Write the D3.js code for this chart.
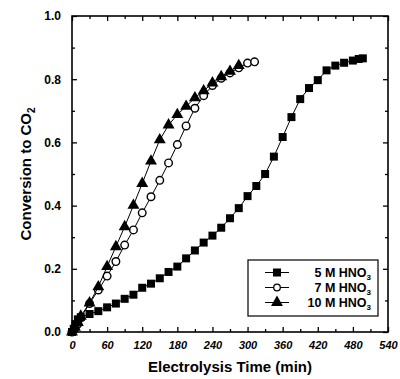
<!DOCTYPE html>
<html>
<head>
<meta charset="utf-8">
<title>Conversion to CO2</title>
<script src="https://d3js.org/d3.v7.min.js"></script>
<style>
  body { margin: 0; background: #fff; }
  text { font-family: "Liberation Sans", Arial, sans-serif; fill: #000; }
</style>
</head>
<body>
<div id="chart"></div>
<script>
// 5 M HNO3 (filled squares)
const t5 = [0, 3, 6, 10, 15, 30, 45, 60, 75, 90, 105, 120, 135, 150, 165, 180, 195, 210, 225, 240, 255, 270, 285, 300, 315, 330, 345, 360, 375, 390, 405, 420, 435, 450, 465, 480, 490, 497];
const v5 = [0, 0.01, 0.025, 0.04, 0.047, 0.057, 0.066, 0.078, 0.09, 0.105, 0.118, 0.14, 0.153, 0.17, 0.19, 0.207, 0.233, 0.258, 0.283, 0.305, 0.33, 0.36, 0.392, 0.43, 0.462, 0.5, 0.555, 0.617, 0.68, 0.737, 0.772, 0.797, 0.828, 0.843, 0.852, 0.859, 0.864, 0.866];

// 7 M HNO3 (open circles)
const t7 = [0, 5, 10, 15, 30, 45, 60, 75, 90, 105, 120, 135, 150, 165, 180, 195, 210, 225, 240, 255, 270, 285, 300, 312];
const v7 = [0, 0.012, 0.025, 0.045, 0.09, 0.133, 0.177, 0.223, 0.275, 0.323, 0.377, 0.428, 0.48, 0.535, 0.593, 0.652, 0.708, 0.748, 0.78, 0.803, 0.82, 0.836, 0.851, 0.855];

// 10 M HNO3 (filled triangles)
const t10 = [0, 5, 10, 15, 30, 45, 60, 75, 90, 105, 120, 135, 150, 165, 180, 195, 210, 225, 240, 255, 270, 285];
const v10 = [0, 0.015, 0.03, 0.05, 0.092, 0.143, 0.207, 0.27, 0.333, 0.401, 0.47, 0.541, 0.608, 0.655, 0.688, 0.714, 0.741, 0.763, 0.788, 0.808, 0.825, 0.843];

const seriesNames = ["5 M HNO", "7 M HNO", "10 M HNO"];
const xTicks = [0, 60, 120, 180, 240, 300, 360, 420, 480, 540];
const yTicks = [0.0, 0.2, 0.4, 0.6, 0.8, 1.0];

const margin = {top: 16, right: 12, bottom: 47, left: 72};
const W = 400, H = 379;
const w = W - margin.left - margin.right;
const h = H - margin.top - margin.bottom;

const svg = d3.select("#chart").append("svg")
    .attr("width", W).attr("height", H);
const g = svg.append("g")
    .attr("transform", "translate(" + margin.left + "," + margin.top + ")");

const x = d3.scaleLinear().domain([0, 540]).range([0, w]);
const y = d3.scaleLinear().domain([0, 1.0]).range([h, 0]);

const xMinor = d3.range(30, 540, 60);
const yMinor = d3.range(0.1, 1.0, 0.2);

function styleAxis(sel) {
    sel.select(".domain").remove();
    sel.selectAll("line").attr("stroke", "#000").attr("stroke-width", 1.3);
}

// bottom
g.append("g").attr("transform", "translate(0," + h + ")")
    .call(d3.axisBottom(x).tickValues(xTicks).tickSize(-5).tickPadding(9).tickFormat(d3.format("d")))
    .call(styleAxis)
    .selectAll("text").attr("font-size", 11).attr("font-style", "italic").attr("font-weight", "bold");
g.append("g").attr("transform", "translate(0," + h + ")")
    .call(d3.axisBottom(x).tickValues(xMinor).tickSize(-3).tickFormat(""))
    .call(styleAxis);
// top
g.append("g")
    .call(d3.axisTop(x).tickValues(xTicks).tickSize(-5).tickFormat(""))
    .call(styleAxis);
g.append("g")
    .call(d3.axisTop(x).tickValues(xMinor).tickSize(-3).tickFormat(""))
    .call(styleAxis);
// left
g.append("g")
    .call(d3.axisLeft(y).tickValues(yTicks).tickSize(-5).tickPadding(11).tickFormat(d3.format(".1f")))
    .call(styleAxis)
    .selectAll("text").attr("font-size", 12).attr("font-weight", "bold");
g.append("g")
    .call(d3.axisLeft(y).tickValues(yMinor).tickSize(-3).tickFormat(""))
    .call(styleAxis);
// right
g.append("g").attr("transform", "translate(" + w + ",0)")
    .call(d3.axisRight(y).tickValues(yTicks).tickSize(-5).tickFormat(""))
    .call(styleAxis);
g.append("g").attr("transform", "translate(" + w + ",0)")
    .call(d3.axisRight(y).tickValues(yMinor).tickSize(-3).tickFormat(""))
    .call(styleAxis);

g.append("rect").attr("width", w).attr("height", h)
    .attr("fill", "none").attr("stroke", "#000").attr("stroke-width", 1.6);

// lines + markers
const line = d3.line().x(d => x(d[0])).y(d => y(d[1]));
const sq = d3.symbol().type(d3.symbolSquare).size(64);
const tri = d3.symbol().type(d3.symbolTriangle).size(62);

function drawSeries(ts, vs, kind) {
    const pts = ts.map((t, i) => [t, vs[i]]);
    g.append("path").datum(pts).attr("d", line)
        .attr("fill", "none").attr("stroke", "#000").attr("stroke-width", 1);
    const mk = g.append("g");
    if (kind === "circle") {
        mk.selectAll("circle").data(pts).enter().append("circle")
            .attr("cx", d => x(d[0])).attr("cy", d => y(d[1])).attr("r", 3.8)
            .attr("fill", "#fff").attr("stroke", "#000").attr("stroke-width", 1.4);
    } else {
        mk.selectAll("path").data(pts).enter().append("path")
            .attr("d", kind === "square" ? sq : tri)
            .attr("transform", d => "translate(" + x(d[0]) + "," + y(d[1]) + ")")
            .attr("fill", "#000");
    }
}
drawSeries(t7, v7, "circle");
drawSeries(t10, v10, "triangle");
drawSeries(t5, v5, "square");

// axis titles
svg.append("text")
    .attr("x", margin.left + w / 2).attr("y", 372)
    .attr("text-anchor", "middle").attr("font-size", 15).attr("font-weight", "bold")
    .text("Electrolysis Time (min)");
const yt = svg.append("text")
    .attr("transform", "translate(31," + (margin.top + h / 2) + ") rotate(-90)")
    .attr("text-anchor", "middle").attr("font-size", 15).attr("font-weight", "bold");
yt.append("tspan").text("Conversion to CO");
yt.append("tspan").attr("font-size", 10).attr("dy", 4).text("2");

// legend
const lg = svg.append("g");
lg.append("rect").attr("x", 248).attr("y", 260).attr("width", 130).attr("height", 56)
    .attr("fill", "#fff").attr("stroke", "#000").attr("stroke-width", 1.2);
const kinds = ["square", "circle", "triangle"];
const rowsY = [272.5, 287.5, 302.5];
seriesNames.forEach((name, i) => {
    const yy = rowsY[i];
    lg.append("line").attr("x1", 265).attr("x2", 289).attr("y1", yy).attr("y2", yy)
        .attr("stroke", "#000").attr("stroke-width", 1);
    if (kinds[i] === "circle") {
        lg.append("circle").attr("cx", 277).attr("cy", yy).attr("r", 3.3)
            .attr("fill", "#fff").attr("stroke", "#000").attr("stroke-width", 1.3);
    } else {
        lg.append("path").attr("d", kinds[i] === "square" ? sq : tri)
            .attr("transform", "translate(277," + yy + ")").attr("fill", "#000");
    }
    const tx = lg.append("text").attr("x", 371).attr("y", yy + 4)
        .attr("text-anchor", "end").attr("font-size", 12.5).attr("font-weight", "bold");
    tx.append("tspan").text(name);
    tx.append("tspan").attr("font-size", 8).attr("dy", 3).text("3");
});
</script>
</body>
</html>
